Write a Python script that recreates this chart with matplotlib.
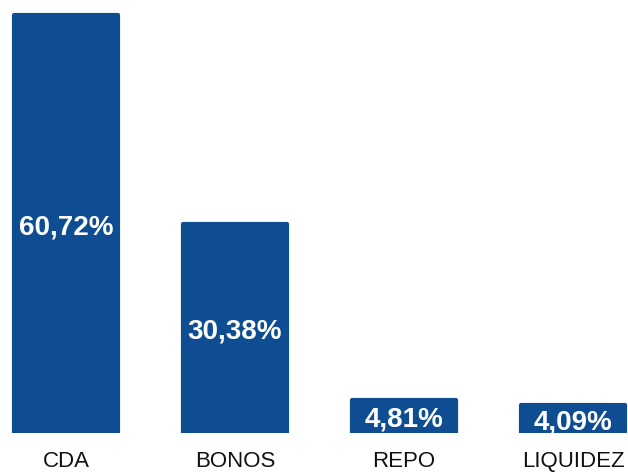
import matplotlib
matplotlib.use("Agg")
import matplotlib.pyplot as plt

# data
categories = ["CDA", "BONOS", "REPO", "LIQUIDEZ"]
values = [60.72, 30.38, 4.81, 4.09]
value_labels = ["60,72%", "30,38%", "4,81%", "4,09%"]

bar_color = "#0f4d92"

plt.rcParams["font.family"] = ["Liberation Sans", "DejaVu Sans"]

fig = plt.figure(figsize=(6.28, 4.72), dpi=100)
ax = fig.add_axes([0, 39 / 472, 1, 433 / 472])

x = list(range(len(categories)))
ax.bar(x, values, width=0.62, color=bar_color, edgecolor=bar_color,
       linewidth=3, joinstyle="round")

for xi, v, lab in zip(x, values, value_labels):
    ax.annotate(lab, (xi, v / 2), xytext=(0, -2.5), textcoords="offset points",
                ha="center", va="center", color="white",
                fontsize=20, fontweight="bold")

ax.set_xlim(-66 / 169, 562 / 169)
ax.set_ylim(0, 62.9)
ax.set_xticks(x)
ax.set_xticklabels(categories, fontsize=16, color="#111111")
ax.tick_params(axis="x", length=0, pad=13)
ax.set_yticks([])
for s in ax.spines.values():
    s.set_visible(False)

fig.savefig("out.png", dpi=100)
